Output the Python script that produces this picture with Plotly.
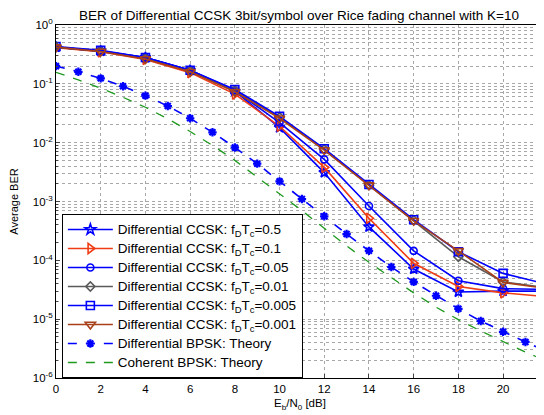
import plotly.graph_objects as go

# ---- data ----
snr_ccsk = [0, 2, 4, 6, 8, 10, 12, 14, 16, 18, 20, 22]
ber_05 = [0.42, 0.36, 0.28, 0.17, 0.075, 0.018, 0.0031, 3.7e-4, 7.1e-5, 2.9e-5, 3.0e-5, 3.0e-5]
ber_01 = [0.41, 0.35, 0.26, 0.155, 0.067, 0.019, 0.0038, 5.2e-4, 8.9e-5, 3.6e-5, 2.8e-5, 2.4e-5]
ber_005 = [0.42, 0.36, 0.28, 0.17, 0.077, 0.022, 0.0052, 8.4e-4, 1.45e-4, 4.5e-5, 3.3e-5, 3.2e-5]
ber_001 = [0.42, 0.36, 0.27, 0.165, 0.076, 0.027, 0.0077, 1.9e-3, 4.8e-4, 1.15e-4, 4.3e-5, 3.4e-5]
ber_0005 = [0.43, 0.37, 0.28, 0.17, 0.08, 0.028, 0.0079, 1.95e-3, 4.9e-4, 1.4e-4, 6.0e-5, 3.9e-5]
ber_0001 = [0.42, 0.355, 0.265, 0.16, 0.073, 0.026, 0.0075, 1.9e-3, 4.7e-4, 1.45e-4, 4.2e-5, 3.3e-5]

snr_theory = list(range(0, 23))
ber_dbpsk = [0.20, 0.16, 0.124, 0.091, 0.063, 0.042, 0.026, 0.015, 0.0083, 0.0044,
             0.0022, 0.0011, 5.6e-4, 2.8e-4, 1.45e-4, 7.7e-5, 4.3e-5, 2.5e-5, 1.5e-5,
             9.3e-6, 6.1e-6, 4.1e-6, 2.8e-6]
ber_bpsk = [0.157, 0.117, 0.084, 0.059, 0.040, 0.0254, 0.0155, 0.0090, 0.0050, 0.0026,
            0.00137, 0.00070, 3.5e-4, 1.76e-4, 9.25e-5, 5.0e-5, 2.8e-5, 1.6e-5, 9.8e-6,
            6.3e-6, 4.1e-6, 2.75e-6, 1.9e-6]

x_ticks = [0, 2, 4, 6, 8, 10, 12, 14, 16, 18, 20, 22]
y_ticks = [1, 0.1, 0.01, 0.001, 1e-4, 1e-5, 1e-6]
y_ticktext = ["10<sup>0</sup>", "10<sup>-1</sup>", "10<sup>-2</sup>", "10<sup>-3</sup>",
              "10<sup>-4</sup>", "10<sup>-5</sup>", "10<sup>-6</sup>"]

BLUE = "#0000ff"
RED = "#f03c14"
GREY = "#5a5a5a"
BROWN = "#a8401a"
GREEN = "#1f9a1f"


def big(s):
    return "<span style='font-size:13.5px'>" + s + "</span>"


fig = go.Figure()


def ccsk(y, name, color, symbol, size=8):
    fig.add_trace(go.Scatter(
        x=snr_ccsk, y=y, name=big(name), mode="lines+markers",
        line=dict(color=color, width=1.6),
        marker=dict(symbol=symbol, size=size, color="rgba(0,0,0,0)",
                    line=dict(color=color, width=1.6)),
    ))


ccsk(ber_05, "Differential CCSK: f<sub>D</sub>T<sub>c</sub>=0.5", BLUE, "star", 8)
ccsk(ber_01, "Differential CCSK: f<sub>D</sub>T<sub>c</sub>=0.1", RED, "triangle-right", 9)
ccsk(ber_005, "Differential CCSK: f<sub>D</sub>T<sub>c</sub>=0.05", BLUE, "circle", 7)
ccsk(ber_001, "Differential CCSK: f<sub>D</sub>T<sub>c</sub>=0.01", GREY, "diamond", 7)
ccsk(ber_0005, "Differential CCSK: f<sub>D</sub>T<sub>c</sub>=0.005", BLUE, "square", 8)
ccsk(ber_0001, "Differential CCSK: f<sub>D</sub>T<sub>c</sub>=0.001", BROWN, "triangle-down", 9)

fig.add_trace(go.Scatter(
    x=snr_theory, y=ber_dbpsk, name=big("Differential BPSK: Theory"), mode="lines+markers",
    line=dict(color=BLUE, width=1.6, dash="dash"),
    marker=dict(symbol="asterisk-open", size=7, color=BLUE, line=dict(color=BLUE, width=2.2)),
))
fig.add_trace(go.Scatter(
    x=snr_theory, y=ber_bpsk, name=big("Coherent BPSK: Theory"), mode="lines",
    line=dict(color=GREEN, width=1.3, dash="dash"),
))

grid = "#a8a8a8"
# page body adds an 8px offset, so the figure is sized to fit the 544x415 window
fig.update_layout(
    width=536, height=407,
    margin=dict(l=48, r=0, t=17, b=37, autoexpand=False),
    paper_bgcolor="white", plot_bgcolor="white",
    font=dict(family="Liberation Sans, Arial, sans-serif", size=11, color="black"),
    title=dict(text="BER of Differential CCSK 3bit/symbol over Rice fading channel with K=10",
               x=0.543, xanchor="center", y=0.995, yanchor="top",
               font=dict(size=13.5)),
    showlegend=True,
    legend=dict(x=0.012, y=0.0, xanchor="left", yanchor="bottom",
                bgcolor="white", bordercolor="black", borderwidth=1,
                font=dict(size=12, family="Liberation Sans, Arial, sans-serif"),
                tracegroupgap=0, itemwidth=45),
    xaxis=dict(range=[0, 21.83], tickvals=x_ticks, ticks="inside", ticklen=4,
               automargin=False,
               showline=True, linecolor="black", linewidth=1, mirror=True,
               showgrid=True, gridcolor=grid, griddash="dot", gridwidth=1,
               zeroline=False, tickfont=dict(size=11.5),
               title=dict(text="E<sub>b</sub>/N<sub>0</sub> [dB]", standoff=5,
                          font=dict(size=11.5))),
    yaxis=dict(type="log", range=[-6, 0], tickvals=y_ticks, ticktext=y_ticktext,
               ticks="inside", ticklen=4, automargin=False,
               showline=True, linecolor="black", linewidth=1, mirror=True,
               showgrid=True, gridcolor=grid, griddash="dot", gridwidth=1,
               minor=dict(showgrid=True, gridcolor=grid, griddash="dot",
                          dtick="D1", ticks="inside", ticklen=2),
               zeroline=False, tickfont=dict(size=11.5),
               title=dict(text="Average BER", standoff=16, font=dict(size=11))),
)

fig.write_html("out.html")
